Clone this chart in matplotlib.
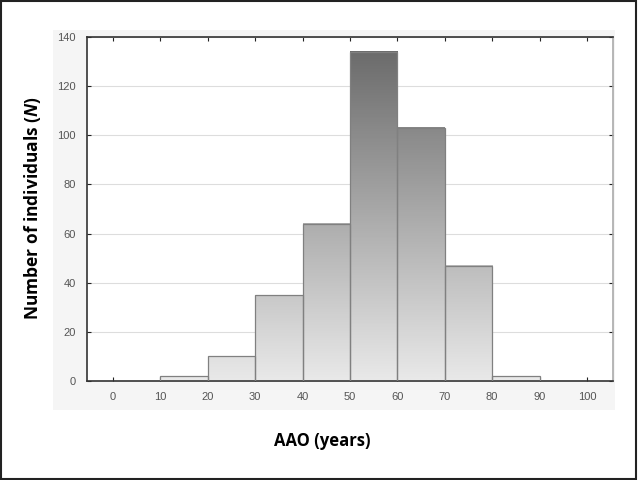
import numpy as np
import matplotlib.pyplot as plt
from matplotlib.colors import LinearSegmentedColormap
from matplotlib.patches import Rectangle

plt.rcParams['mathtext.fontset'] = 'custom'
plt.rcParams['mathtext.bfit'] = 'Open Sans:bold:italic'
plt.rcParams['mathtext.bf'] = 'Open Sans:bold'
plt.rcParams['mathtext.rm'] = 'Open Sans'

# histogram data (age at onset, 10-year bins)
bin_edges = [10, 20, 30, 40, 50, 60, 70, 80, 90]
counts = [2, 10, 35, 64, 134, 103, 47, 2]
x_ticks = [0, 10, 20, 30, 40, 50, 60, 70, 80, 90, 100]
y_ticks = [0, 20, 40, 60, 80, 100, 120, 140]

fig = plt.figure(figsize=(6.38, 4.8), dpi=100)

# outer frame and the pale panel behind the plot
fig.patches.append(Rectangle((0.002, 0.003), 0.995, 0.994, transform=fig.transFigure,
                             facecolor='white', edgecolor='#222222', lw=1.5, zorder=-2))
fig.patches.append(Rectangle((53 / 638, 1 - 410 / 480), (615 - 53) / 638, (410 - 30) / 480,
                             transform=fig.transFigure, facecolor='#f5f5f5',
                             edgecolor='none', zorder=-1))

ax = fig.add_axes([87 / 638, 1 - 381 / 480, (613 - 87) / 638, (381 - 37) / 480])
ax.set_facecolor('white')

cmap = LinearSegmentedColormap.from_list('grey_grad', ['#e9e9e9', '#666666'])
ymax = 140
for left, right, h in zip(bin_edges[:-1], bin_edges[1:], counts):
    col = np.linspace(0, h, 200).reshape(-1, 1)
    ax.imshow(col, extent=(left, right, 0, h), origin='lower', cmap=cmap,
              vmin=0, vmax=ymax, aspect='auto', interpolation='bilinear', zorder=2)
    ax.add_patch(Rectangle((left, 0), right - left, h, facecolor='none',
                           edgecolor='#808080', lw=0.9, zorder=3))

ax.set_xlim(-5.5, 105.5)
ax.set_ylim(0, ymax)
ax.set_xticks(x_ticks)
ax.set_yticks(y_ticks)
ax.yaxis.grid(True, color='#dddddd', lw=0.8, zorder=0)
ax.set_axisbelow(True)

ax.tick_params(direction='in', length=3, width=0.8, color='#222222',
               labelsize=8, labelcolor='#555555', top=True, right=True, pad=8)
for tl in ax.get_xticklabels() + ax.get_yticklabels():
    tl.set_family('Liberation Sans')

ax.spines['left'].set_color('#333333')
ax.spines['bottom'].set_color('#333333')
ax.spines['top'].set_color('#333333')
ax.spines['right'].set_color('#aaaaaa')
for s in ax.spines.values():
    s.set_linewidth(1.2)

fig.text(322 / 638, 1 - 441 / 480, 'AAO (years)', ha='center', va='center',
         fontsize=12, fontweight='bold', family='Open Sans')
fig.text(33 / 638, 1 - 208 / 480, r'Number of individuals ($\mathbfit{N}$)', ha='center',
         va='center', rotation=90, fontsize=12.5, fontweight='bold', family='Open Sans')

fig.savefig('out.png', dpi=100)
